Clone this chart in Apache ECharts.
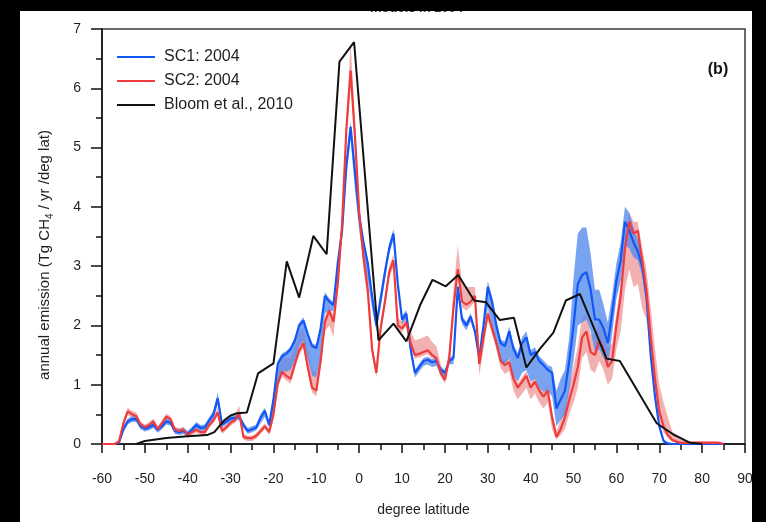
<!DOCTYPE html>
<html>
<head>
<meta charset="utf-8">
<script src="https://cdn.jsdelivr.net/npm/echarts@6/dist/echarts.min.js"></script>
<style>
  html, body { margin: 0; padding: 0; background: #fff; }
  #chart { width: 766px; height: 522px; }
</style>
</head>
<body>
<div id="chart"></div>
<script>
// 1-degree latitude grid for the two model scenarios, from 60S to 85N
const latStart = -60;

// SC1: 2004 — annual emission (Tg CH4 / yr / deg lat)
const sc1 = [
  0, 0, 0, 0, 0.03, 0.25, 0.38, 0.42, 0.42, 0.30,          // -60..-51
  0.26, 0.28, 0.32, 0.24, 0.30, 0.38, 0.36, 0.22, 0.20, 0.22, // -50..-41
  0.17, 0.24, 0.32, 0.27, 0.28, 0.40, 0.50, 0.77, 0.33, 0.38, // -40..-31
  0.43, 0.44, 0.46, 0.32, 0.22, 0.25, 0.28, 0.45, 0.56, 0.32, // -30..-21
  0.75, 1.35, 1.48, 1.52, 1.60, 1.75, 2.00, 2.08, 1.85, 1.65, // -20..-11
  1.62, 1.95, 2.50, 2.40, 2.34, 3.05, 3.60, 4.70, 5.35, 4.60, // -10..-1
  3.85, 3.40, 3.05, 2.50, 2.00, 2.45, 2.90, 3.30, 3.55, 2.70, // 0..9
  2.10, 2.20, 1.60, 1.20, 1.30, 1.40, 1.42, 1.38, 1.40, 1.25, // 10..19
  1.20, 1.40, 1.45, 2.65, 2.10, 2.00, 2.15, 1.90, 1.45, 2.00, // 20..29
  2.65, 2.40, 2.00, 1.70, 1.65, 1.90, 1.60, 1.45, 1.70, 1.80, // 30..39
  1.50, 1.55, 1.40, 1.33, 1.25, 1.20, 0.60, 0.75, 0.90, 1.40, // 40..49
  2.00, 2.70, 2.85, 2.90, 2.60, 2.10, 2.10, 1.95, 1.70, 2.20, // 50..59
  2.75, 3.10, 3.75, 3.60, 3.40, 3.25, 3.00, 2.50, 1.50, 0.80, // 60..69
  0.30, 0.05, 0.01, 0, 0, 0, 0, 0, 0, 0,                      // 70..79
  0, 0, 0, 0, 0, 0                                            // 80..85
];
// SC1 uncertainty range: extent above and below the line
const sc1Up = [
  0, 0, 0, 0, 0.03, 0.05, 0.05, 0.05, 0.05, 0.05,
  0.05, 0.05, 0.05, 0.05, 0.05, 0.05, 0.05, 0.05, 0.05, 0.05,
  0.05, 0.05, 0.05, 0.05, 0.05, 0.05, 0.06, 0.10, 0.05, 0.05,
  0.05, 0.05, 0.05, 0.05, 0.05, 0.05, 0.05, 0.05, 0.05, 0.05,
  0.05, 0.05, 0.05, 0.05, 0.05, 0.05, 0.05, 0.06, 0.05, 0.05,
  0.05, 0.05, 0.06, 0.06, 0.05, 0.05, 0.06, 0.08, 0.10, 0.08,
  0.06, 0.06, 0.06, 0.06, 0.06, 0.08, 0.08, 0.08, 0.08, 0.06,
  0.06, 0.06, 0.05, 0.05, 0.05, 0.05, 0.05, 0.05, 0.05, 0.05,
  0.05, 0.05, 0.05, 0.08, 0.06, 0.06, 0.06, 0.06, 0.06, 0.08,
  0.10, 0.08, 0.08, 0.06, 0.08, 0.08, 0.08, 0.08, 0.10, 0.10,
  0.08, 0.08, 0.08, 0.08, 0.08, 0.10, 0.30, 0.35, 0.35, 0.40,
  0.80, 0.85, 0.80, 0.75, 0.60, 0.50, 0.50, 0.40, 0.35, 0.30,
  0.30, 0.30, 0.25, 0.30, 0.25, 0.20, 0.20, 0.15, 0.10, 0.08,
  0.05, 0.03, 0.01, 0, 0, 0, 0, 0, 0, 0,
  0, 0, 0, 0, 0, 0
];
const sc1Dn = [
  0, 0, 0, 0, 0.03, 0.05, 0.05, 0.05, 0.05, 0.05,
  0.05, 0.05, 0.05, 0.05, 0.05, 0.05, 0.05, 0.05, 0.05, 0.05,
  0.05, 0.05, 0.05, 0.05, 0.05, 0.05, 0.08, 0.10, 0.05, 0.05,
  0.05, 0.05, 0.05, 0.05, 0.05, 0.05, 0.05, 0.10, 0.10, 0.05,
  0.20, 0.30, 0.25, 0.30, 0.35, 0.35, 0.35, 0.35, 0.40, 0.50,
  0.50, 0.45, 0.30, 0.15, 0.10, 0.15, 0.15, 0.20, 0.20, 0.30,
  0.25, 0.30, 0.30, 0.20, 0.10, 0.15, 0.15, 0.10, 0.10, 0.10,
  0.08, 0.08, 0.08, 0.08, 0.08, 0.08, 0.08, 0.08, 0.08, 0.08,
  0.06, 0.06, 0.10, 0.10, 0.08, 0.08, 0.08, 0.06, 0.06, 0.10,
  0.35, 0.40, 0.30, 0.30, 0.30, 0.45, 0.45, 0.40, 0.50, 0.55,
  0.45, 0.45, 0.45, 0.45, 0.35, 0.40, 0.30, 0.35, 0.40, 0.50,
  0.60, 0.70, 0.80, 0.80, 0.70, 0.55, 0.50, 0.50, 0.40, 0.35,
  0.30, 0.35, 0.40, 0.30, 0.25, 0.15, 0.15, 0.15, 0.10, 0.08,
  0.05, 0.03, 0.01, 0, 0, 0, 0, 0, 0, 0,
  0, 0, 0, 0, 0, 0
];

// SC2: 2004
const sc2 = [
  0, 0, 0, 0, 0.05, 0.35, 0.55, 0.50, 0.47, 0.33,            // -60..-51
  0.28, 0.32, 0.38, 0.25, 0.35, 0.46, 0.42, 0.24, 0.22, 0.24, // -50..-41
  0.15, 0.20, 0.24, 0.20, 0.20, 0.32, 0.40, 0.53, 0.22, 0.28, // -40..-31
  0.36, 0.40, 0.52, 0.12, 0.10, 0.10, 0.14, 0.22, 0.30, 0.20, // -30..-21
  0.50, 1.02, 1.22, 1.15, 1.10, 1.35, 1.58, 1.70, 1.30, 0.95, // -20..-11
  0.90, 1.40, 2.05, 2.25, 2.06, 2.70, 3.70, 5.30, 6.30, 5.20, // -10..-1
  3.90, 3.15, 2.60, 1.60, 1.20, 1.95, 2.40, 2.90, 3.10, 2.00, // 0..9
  1.95, 2.05, 1.70, 1.50, 1.52, 1.55, 1.58, 1.50, 1.45, 1.20, // 10..19
  1.08, 1.45, 2.30, 2.95, 2.40, 2.35, 2.40, 2.50, 1.35, 1.80, // 20..29
  2.20, 1.95, 1.70, 1.40, 1.33, 1.38, 1.10, 0.95, 1.05, 1.15, // 30..39
  0.95, 1.05, 0.90, 0.80, 0.90, 0.45, 0.12, 0.25, 0.45, 0.75, // 40..49
  1.00, 1.30, 1.80, 1.90, 1.55, 1.50, 1.75, 1.60, 1.30, 1.40, // 50..59
  2.00, 2.50, 3.30, 3.75, 3.55, 3.60, 3.10, 2.60, 1.80, 1.10, // 60..69
  0.55, 0.30, 0.15, 0.07, 0.04, 0.02, 0.02, 0.02, 0.02, 0.02, // 70..79
  0.02, 0.02, 0.02, 0.02, 0.02, 0                             // 80..85
];
const sc2Up = [
  0, 0, 0, 0, 0.03, 0.06, 0.06, 0.06, 0.06, 0.05,
  0.05, 0.05, 0.05, 0.05, 0.05, 0.05, 0.05, 0.05, 0.05, 0.05,
  0.05, 0.05, 0.05, 0.05, 0.05, 0.05, 0.05, 0.08, 0.05, 0.05,
  0.05, 0.08, 0.13, 0.05, 0.04, 0.04, 0.04, 0.05, 0.05, 0.05,
  0.15, 0.20, 0.25, 0.30, 0.35, 0.30, 0.30, 0.25, 0.30, 0.30,
  0.30, 0.20, 0.10, 0.08, 0.10, 0.10, 0.15, 0.20, 0.45, 0.30,
  0.20, 0.10, 0.10, 0.10, 0.08, 0.10, 0.10, 0.10, 0.10, 0.12,
  0.12, 0.15, 0.20, 0.25, 0.25, 0.25, 0.25, 0.22, 0.20, 0.15,
  0.10, 0.15, 0.30, 0.40, 0.30, 0.30, 0.25, 0.15, 0.08, 0.08,
  0.08, 0.08, 0.08, 0.08, 0.08, 0.08, 0.08, 0.08, 0.08, 0.08,
  0.08, 0.08, 0.08, 0.08, 0.08, 0.08, 0.10, 0.15, 0.20, 0.25,
  0.30, 0.35, 0.35, 0.30, 0.30, 0.35, 0.35, 0.30, 0.30, 0.30,
  0.20, 0.20, 0.20, 0.15, 0.20, 0.15, 0.20, 0.35, 0.50, 0.50,
  0.45, 0.40, 0.30, 0.15, 0.08, 0.05, 0.04, 0.03, 0.03, 0.03,
  0.03, 0.03, 0.03, 0.03, 0.02, 0
];
const sc2Dn = [
  0, 0, 0, 0, 0.03, 0.06, 0.06, 0.06, 0.06, 0.05,
  0.05, 0.05, 0.05, 0.05, 0.05, 0.05, 0.05, 0.05, 0.05, 0.05,
  0.05, 0.05, 0.05, 0.05, 0.05, 0.05, 0.05, 0.05, 0.05, 0.05,
  0.05, 0.05, 0.05, 0.05, 0.05, 0.05, 0.05, 0.05, 0.05, 0.05,
  0.08, 0.08, 0.08, 0.08, 0.08, 0.08, 0.08, 0.08, 0.08, 0.08,
  0.10, 0.10, 0.15, 0.25, 0.25, 0.15, 0.15, 0.15, 0.20, 0.20,
  0.15, 0.20, 0.20, 0.10, 0.08, 0.10, 0.10, 0.10, 0.10, 0.10,
  0.06, 0.06, 0.06, 0.06, 0.06, 0.06, 0.06, 0.06, 0.06, 0.06,
  0.06, 0.06, 0.10, 0.10, 0.10, 0.10, 0.08, 0.10, 0.20, 0.20,
  0.10, 0.10, 0.10, 0.12, 0.15, 0.15, 0.20, 0.20, 0.20, 0.20,
  0.20, 0.20, 0.20, 0.20, 0.20, 0.20, 0.05, 0.10, 0.20, 0.25,
  0.30, 0.35, 0.35, 0.35, 0.30, 0.30, 0.35, 0.35, 0.30, 0.30,
  0.40, 0.60, 0.70, 0.80, 0.90, 0.90, 0.80, 0.50, 0.30, 0.20,
  0.15, 0.10, 0.05, 0.03, 0.02, 0.02, 0.02, 0.02, 0.02, 0.02,
  0.02, 0.02, 0.02, 0.02, 0.02, 0
];

// Bloom et al., 2010 — irregularly spaced latitudes
const bloomLat = [
  -52, -50, -45, -40, -35.5, -33.8, -31.5, -30, -28.5, -26.2,
  -23.6, -20, -16.9, -14, -10.7, -7.6, -4.6, -1.2, 4.5, 8,
  11, 14.2, 17.1, 20.2, 23.1, 26.8, 29.6, 32.8, 36.1, 39,
  42.2, 45.3, 48.2, 51.5, 57.7, 60.8, 69.4, 73.3, 77.2, 80
];
const bloomVal = [
  0, 0.05, 0.10, 0.13, 0.15, 0.20, 0.40, 0.48, 0.52, 0.53,
  1.19, 1.36, 3.08, 2.47, 3.51, 3.20, 6.45, 6.78, 1.75, 2.03,
  1.73, 2.34, 2.77, 2.66, 2.85, 2.42, 2.39, 2.09, 2.13, 1.29,
  1.61, 1.88, 2.42, 2.53, 1.44, 1.40, 0.35, 0.16, 0.02, 0
];

const xTicks = { min: -60, max: 90, step: 10 };
const yTicks = { min: 0, max: 7, step: 1 };

const seriesNames = ['SC1: 2004', 'SC2: 2004', 'Bloom et al., 2010'];
const blueLine = '#1257f5';
const blueBand = 'rgba(86,140,238,0.80)';
const redLine = '#ee3b3b';
const redBand = 'rgba(236,128,128,0.62)';
const fontFamily = 'Liberation Sans, Arial, sans-serif';

const lats = sc1.map((_, i) => latStart + i);

function bandSeries(name, line, up, dn, fill) {
  const rows = lats.map((lat, i) => [lat, Math.max(0, line[i] - dn[i]), line[i] + up[i]]);
  return {
    name: name,
    type: 'custom',
    silent: true,
    encode: { x: 0, y: [1, 2] },
    data: rows,
    renderItem: function (params, api) {
      if (params.dataIndex !== 0) return null;
      const top = rows.map(r => api.coord([r[0], r[2]]));
      const bottom = rows.map(r => api.coord([r[0], r[1]])).reverse();
      return {
        type: 'polygon',
        shape: { points: top.concat(bottom) },
        style: { fill: fill, stroke: null }
      };
    }
  };
}

function lineSeries(name, xs, ys, color, width) {
  return {
    name: name,
    type: 'line',
    showSymbol: false,
    symbol: 'none',
    data: xs.map((x, i) => [x, ys[i]]),
    lineStyle: { color: color, width: width },
    itemStyle: { color: color },
    z: 5
  };
}

const axisInk = { color: '#111', width: 1.5 };

const chart = echarts.init(document.getElementById('chart'), null, { renderer: 'canvas' });

chart.setOption({
  animation: false,
  backgroundColor: '#ffffff',
  textStyle: { fontFamily: fontFamily },
  grid: {
    left: 102, top: 29, right: 21, bottom: 76,
    show: true, borderColor: '#3a3a3a', borderWidth: 1.5, backgroundColor: 'transparent'
  },
  legend: {
    data: seriesNames,
    orient: 'vertical',
    left: 112, top: 43,
    icon: 'rect',
    itemWidth: 38, itemHeight: 2, itemGap: 6,
    textStyle: { fontSize: 16, color: '#1f1f1f', lineHeight: 18, padding: [0, 0, 0, 4] }
  },
  xAxis: {
    type: 'value',
    min: xTicks.min, max: xTicks.max, interval: xTicks.step,
    name: 'degree latitude',
    nameLocation: 'middle', nameGap: 59,
    nameTextStyle: { fontSize: 14, color: '#1f1f1f' },
    axisLine: { onZero: false, lineStyle: axisInk },
    axisTick: { show: true, length: 9, lineStyle: axisInk },
    minorTick: { show: true, splitNumber: 2, length: 6, lineStyle: axisInk },
    axisLabel: { fontSize: 14, color: '#1f1f1f', margin: 28 },
    splitLine: { show: false }
  },
  yAxis: {
    type: 'value',
    min: yTicks.min, max: yTicks.max, interval: yTicks.step,
    axisLine: { show: true, onZero: false, lineStyle: axisInk },
    axisTick: { show: true, length: 11, lineStyle: axisInk },
    minorTick: { show: true, splitNumber: 2, length: 6, lineStyle: axisInk },
    axisLabel: { fontSize: 14, color: '#1f1f1f', margin: 21 },
    splitLine: { show: false }
  },
  series: [
    bandSeries('SC2 range', sc2, sc2Up, sc2Dn, redBand),
    bandSeries('SC1 range', sc1, sc1Up, sc1Dn, blueBand),
    lineSeries(seriesNames[0], lats, sc1, blueLine, 2.2),
    lineSeries(seriesNames[1], lats, sc2, redLine, 2.2),
    lineSeries(seriesNames[2], bloomLat, bloomVal, '#111111', 2)
  ],
  graphic: [
    {
      type: 'text', left: 370, top: 2, z: 10,
      style: { text: 'models in 2004', font: 'bold 13px ' + fontFamily, fill: '#333' }
    },
    { type: 'rect', shape: { x: 0, y: 0, width: 766, height: 11 }, style: { fill: '#000' }, z: 20 },
    { type: 'rect', shape: { x: 0, y: 0, width: 20, height: 522 }, style: { fill: '#000' }, z: 20 },
    { type: 'rect', shape: { x: 752, y: 0, width: 14, height: 522 }, style: { fill: '#000' }, z: 20 },
    {
      type: 'text', x: 718, y: 70, z: 10,
      style: {
        text: '(b)', font: 'bold 16px ' + fontFamily,
        fill: '#111', align: 'center', verticalAlign: 'middle'
      }
    },
    {
      type: 'text', x: 45, y: 255, rotation: Math.PI / 2, z: 10,
      style: {
        text: '{n|annual emission (Tg CH}{s|4}{n| / yr /deg lat)}',
        align: 'center', verticalAlign: 'middle', fill: '#1f1f1f',
        rich: {
          n: { fontSize: 15, fontFamily: fontFamily, lineHeight: 20, verticalAlign: 'middle' },
          s: { fontSize: 10, fontFamily: fontFamily, lineHeight: 20, verticalAlign: 'bottom', padding: [7, 0, 0, 0] }
        }
      }
    }
  ]
});
</script>
</body>
</html>
